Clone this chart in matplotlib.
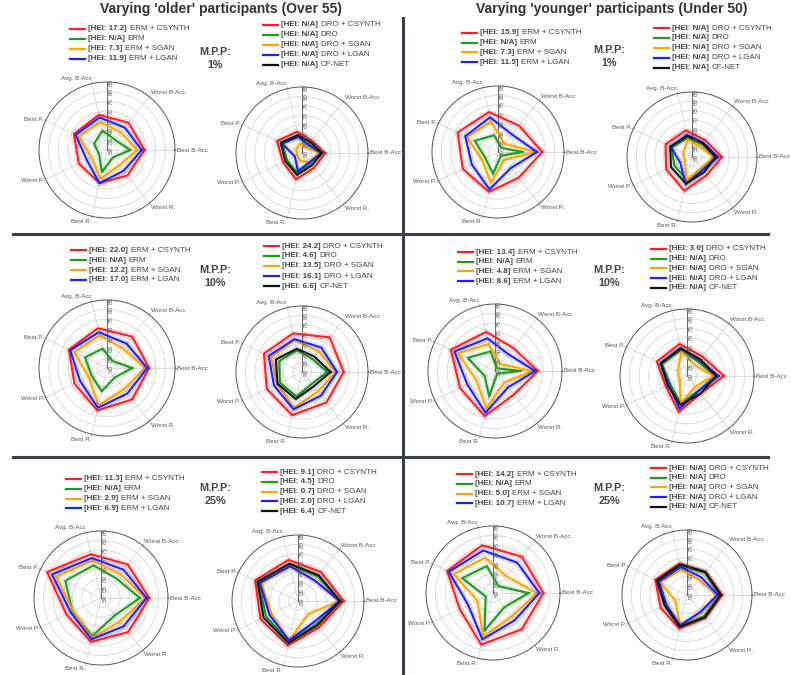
import numpy as np
import matplotlib
matplotlib.use('Agg')
import matplotlib.pyplot as plt
from matplotlib.lines import Line2D
from matplotlib.offsetbox import TextArea, HPacker, DrawingArea, AnchoredOffsetbox
from matplotlib.transforms import offset_copy

plt.rcParams['font.family'] = ['Liberation Sans', 'DejaVu Sans']

W, H = 791, 675

# axes of every radar, counter-clockwise starting at 3 o'clock
AXES = ['Best B-Acc', 'Worst B-Acc', 'Avg. B-Acc', 'Best P.', 'Worst P.', 'Best R.', 'Worst R.']
R_TICKS = [50, 55, 60, 65, 70, 75, 80, 85]

ERM_METHODS = ['ERM + CSYNTH', 'ERM', 'ERM + SGAN', 'ERM + LGAN']
DRO_METHODS = ['DRO + CSYNTH', 'DRO', 'DRO + SGAN', 'DRO + LGAN', 'CF-NET']
ERM_COLORS = ['#ff1f1f', '#229922', '#ffa500', '#1f1fff']
DRO_COLORS = ['#ff1f1f', '#229922', '#ffa500', '#1f1fff', '#111111']

# ---- older participants (over 55) ----
old_1_erm = [[69.3, 67.9, 68.6, 68.9, 66.1, 67.5, 66.8],
             [61.9, 56.7, 60.2, 57.4, 54.6, 61.6, 54.9],
             [65.4, 61.6, 64.7, 66.1, 58.8, 65.1, 60.2],
             [67.9, 64.7, 67.2, 67.9, 61.6, 67.5, 63.7]]
old_1_erm_hei = ['17.2', 'N/A', '7.3', '11.9']
old_1_dro = [[62.3, 58.4, 61.6, 64.7, 61.2, 64.4, 60.2],
             [59.5, 56.3, 58.8, 61.6, 58.8, 60.9, 57.0],
             [59.5, 53.5, 55.3, 53.5, 52.8, 54.2, 56.3],
             [60.5, 55.3, 58.8, 61.9, 54.2, 59.8, 56.3],
             [60.5, 57.4, 59.8, 62.6, 59.8, 61.9, 58.4]]
old_1_dro_hei = ['N/A', 'N/A', 'N/A', 'N/A', 'N/A']

old_10_erm = [[71.7, 70.7, 71.0, 71.7, 68.6, 72.4, 70.7],
              [63.0, 54.6, 60.2, 62.6, 58.8, 62.3, 56.3],
              [69.6, 63.0, 67.2, 68.6, 60.5, 69.6, 64.0],
              [70.7, 66.1, 68.9, 71.0, 65.4, 71.0, 66.8]]
old_10_erm_hei = ['22.0', 'N/A', '12.2', '17.0']
old_10_dro = [[72.1, 73.5, 71.0, 72.4, 70.7, 73.5, 70.7],
              [63.3, 58.8, 61.9, 63.3, 63.0, 63.3, 58.1],
              [67.9, 64.0, 67.5, 68.2, 64.4, 69.6, 63.3],
              [68.6, 66.5, 67.9, 69.6, 66.5, 70.3, 66.1],
              [65.1, 60.5, 62.6, 65.4, 64.4, 64.7, 59.8]]
old_10_dro_hei = ['24.2', '4.6', '13.5', '16.1', '6.6']

old_25_erm = [[75.2, 72.4, 73.5, 81.2, 70.0, 73.5, 72.8],
              [70.3, 63.0, 67.5, 70.7, 66.5, 70.3, 61.6],
              [73.1, 66.1, 70.0, 75.9, 66.1, 71.4, 65.8],
              [73.8, 68.9, 71.4, 78.4, 67.5, 72.1, 68.9]]
old_25_erm_hei = ['11.3', 'N/A', '2.9', '6.9']
old_25_dro = [[74.2, 69.6, 72.4, 75.2, 72.1, 74.2, 67.9],
              [72.1, 66.8, 69.6, 73.1, 68.9, 72.1, 65.8],
              [72.1, 64.0, 69.3, 71.7, 65.8, 71.7, 58.8],
              [72.1, 64.0, 68.9, 72.4, 66.8, 71.4, 64.0],
              [72.4, 67.5, 70.3, 73.8, 70.3, 72.8, 66.5]]
old_25_dro_hei = ['9.1', '4.5', '0.7', '2.0', '6.4']

# ---- younger participants (under 50) ----
young_1_erm = [[73.5, 67.9, 71.7, 73.8, 70.7, 71.7, 67.5],
               [63.3, 52.8, 59.1, 63.7, 57.4, 61.9, 52.5],
               [70.0, 55.6, 66.5, 68.2, 59.5, 66.8, 55.3],
               [70.7, 61.9, 68.9, 69.3, 65.4, 70.3, 60.9]]
young_1_erm_hei = ['15.9', 'N/A', '7.3', '11.5']
young_1_dro = [[66.1, 61.6, 64.7, 65.8, 65.4, 68.6, 62.6],
               [62.6, 58.8, 60.5, 62.3, 60.5, 62.6, 58.8],
               [61.6, 57.0, 59.8, 55.3, 54.2, 63.3, 57.7],
               [64.0, 59.8, 62.3, 62.6, 57.0, 65.1, 59.1],
               [62.6, 59.5, 61.6, 63.0, 62.6, 64.7, 60.5]]
young_1_dro_hei = ['N/A', 'N/A', 'N/A', 'N/A', 'N/A']

young_10_erm = [[72.4, 65.4, 71.0, 75.6, 70.3, 74.2, 65.8],
                [63.3, 51.8, 60.5, 65.8, 56.0, 63.7, 51.8],
                [69.3, 54.6, 64.4, 71.4, 60.9, 70.0, 57.7],
                [71.0, 61.2, 67.5, 73.5, 66.1, 72.4, 60.9]]
young_10_erm_hei = ['13.4', 'N/A', '4.8', '8.6']
young_10_dro = [[69.3, 63.0, 67.2, 67.5, 62.3, 69.3, 61.6],
                [64.7, 59.5, 64.0, 64.7, 59.8, 64.7, 59.8],
                [64.0, 57.0, 63.0, 55.3, 54.2, 64.7, 57.0],
                [66.5, 60.5, 65.1, 65.4, 60.5, 67.5, 59.8],
                [65.1, 61.2, 64.7, 65.1, 61.2, 65.4, 61.6]]
young_10_dro_hei = ['3.0', 'N/A', 'N/A', 'N/A', 'N/A']

young_25_erm = [[76.3, 74.2, 75.6, 76.6, 69.3, 77.7, 74.2],
                [68.6, 54.6, 64.4, 67.9, 54.2, 70.3, 59.5],
                [72.8, 61.2, 68.9, 72.8, 59.1, 73.1, 65.8],
                [74.2, 70.3, 72.8, 75.6, 64.4, 74.9, 68.2]]
young_25_erm_hei = ['14.2', 'N/A', '5.0', '10.7']
young_25_dro = [[68.9, 66.1, 67.5, 68.9, 65.8, 68.6, 65.8],
                [67.5, 65.4, 66.1, 67.5, 62.6, 67.2, 64.7],
                [65.8, 60.5, 64.0, 66.1, 57.0, 66.5, 62.3],
                [66.5, 62.3, 65.4, 66.8, 62.3, 66.8, 61.6],
                [68.2, 65.8, 66.8, 67.9, 63.3, 67.5, 65.4]]
young_25_dro_hei = ['N/A', 'N/A', 'N/A', 'N/A', 'N/A']

MPP = ['1%', '10%', '25%']
BAND = 1.4  # half width of the dotted spread around each line


def radar(fig, cx, cy, rad, series, colors):
    ax = fig.add_axes([(cx - rad) / W, 1 - (cy + rad) / H, 2 * rad / W, 2 * rad / H],
                      projection='polar')
    theta = np.linspace(0, 2 * np.pi, len(AXES), endpoint=False)
    ax.set_ylim(R_TICKS[0], R_TICKS[-1])
    ax.set_yticks(R_TICKS[1:-1])
    ax.set_yticklabels([])
    ax.set_thetagrids(np.degrees(theta), labels=[''] * len(AXES))
    ax.grid(color='#d6d6d6', lw=0.6)
    ax.spines['polar'].set_color('#555555')
    ax.spines['polar'].set_linewidth(0.7)
    ax.tick_params(length=0, pad=0)

    for t, name in zip(theta, AXES):
        ax.plot([t, t], [R_TICKS[-1], R_TICKS[-1] + 1.0], color='#aaaaaa', lw=0.6, clip_on=False)
        c, s = np.cos(t), np.sin(t)
        ha = 'left' if c > 0.1 else ('right' if c < -0.1 else 'center')
        va = 'bottom' if s > 0.5 else ('top' if s < -0.5 else 'center')
        ax.text(t, R_TICKS[-1] + 1.2, name, fontsize=4.5, color='#555555', ha=ha, va=va)

    ax.plot([np.pi / 2, np.pi / 2], [R_TICKS[0], R_TICKS[-1]], color='#666666', lw=0.7)
    trans = offset_copy(ax.transData, fig=fig, x=1.0, y=0, units='points')
    for v in R_TICKS:
        ax.text(np.pi / 2, v, str(v), rotation=90, fontsize=4.6, color='#666666',
                ha='left', va='center', transform=trans)

    th = np.r_[theta, theta[0]]
    for vals, col in zip(series, colors):
        v = np.r_[vals, vals[0]]
        ax.fill_between(th, v - BAND, v + BAND, color=col, alpha=0.07, lw=0)
        ax.plot(th, v + BAND, color=col, lw=0.5, ls=':', alpha=0.6)
        ax.plot(th, v - BAND, color=col, lw=0.5, ls=':', alpha=0.6)
        ax.plot(th, v, color=col, lw=1.5)
    return ax


def legend_rows(fig, x, y, step, colors, heis, names):
    for i, (col, hei, name) in enumerate(zip(colors, heis, names)):
        da = DrawingArea(11, 5)
        da.add_artist(Line2D([0, 11], [2.5, 2.5], color=col, lw=1.6))
        bold = TextArea(f'[HEI: {hei}]', textprops=dict(fontsize=5.8, weight='bold', color='#444444'))
        reg = TextArea(name, textprops=dict(fontsize=5.8, color='#444444'))
        row = HPacker(children=[da, bold, reg], align='center', pad=0, sep=2.0)
        box = AnchoredOffsetbox(loc='center left', child=row, pad=0, borderpad=0, frameon=False,
                                bbox_to_anchor=(x / W, 1 - (y + i * step) / H),
                                bbox_transform=fig.transFigure)
        fig.add_artist(box)


def fig_line(fig, x0, y0, x1, y1):
    fig.add_artist(Line2D([x0 / W, x1 / W], [1 - y0 / H, 1 - y1 / H], transform=fig.transFigure,
                          color='#3b3f47', lw=2.2))


fig = plt.figure(figsize=(W / 100, H / 100), dpi=100)

fig.text(221 / W, 1 - 9 / H, "Varying 'older' participants (Over 55)", ha='center', va='center',
         fontsize=10, weight='bold', color='#333333')
fig.text(612 / W, 1 - 9 / H, "Varying 'younger' participants (Under 50)", ha='center', va='center',
         fontsize=10, weight='bold', color='#333333')

fig_line(fig, 403, 18, 403, 675)
fig_line(fig, 13, 234, 768, 234)
fig_line(fig, 13, 457, 768, 457)

# (erm data, erm hei, dro data, dro hei, erm centre+radius, dro centre+radius,
#  erm legend x/y/step, dro legend x/y/step, mpp x/y)
panels = [
    (old_1_erm, old_1_erm_hei, old_1_dro, old_1_dro_hei, (107, 150, 68), (302, 153, 66),
     (70, 29, 10), (263, 25, 10), (215, 52), MPP[0]),
    (young_1_erm, young_1_erm_hei, young_1_dro, young_1_dro_hei, (498, 152, 66), (692, 157, 65),
     (462, 33, 9.7), (654, 28, 9.9), (609, 50), MPP[0]),
    (old_10_erm, old_10_erm_hei, old_10_dro, old_10_dro_hei, (107, 368, 68), (302, 372, 66),
     (71, 250, 10), (264, 246, 10), (215, 270), MPP[1]),
    (young_10_erm, young_10_erm_hei, young_10_dro, young_10_dro_hei, (495, 371, 67), (687, 376, 67),
     (458, 252, 9.7), (651, 249, 9.7), (609, 270), MPP[1]),
    (old_25_erm, old_25_erm_hei, old_25_dro, old_25_dro_hei, (101, 598, 67), (298, 601, 66),
     (66, 479, 9.8), (262, 472, 9.8), (215, 488), MPP[2]),
    (young_25_erm, young_25_erm_hei, young_25_dro, young_25_dro_hei, (493, 593, 67), (687, 595, 65),
     (457, 474, 9.8), (651, 468, 9.7), (609, 488), MPP[2]),
]

for erm, erm_hei, dro, dro_hei, c_erm, c_dro, l_erm, l_dro, mpp_xy, mpp in panels:
    radar(fig, *c_erm, erm, ERM_COLORS)
    radar(fig, *c_dro, dro, DRO_COLORS)
    legend_rows(fig, *l_erm, ERM_COLORS, erm_hei, ERM_METHODS)
    legend_rows(fig, *l_dro, DRO_COLORS, dro_hei, DRO_METHODS)
    fig.text(mpp_xy[0] / W, 1 - mpp_xy[1] / H, 'M.P.P:', ha='center', va='center',
             fontsize=7.8, weight='bold', color='#444444')
    fig.text(mpp_xy[0] / W, 1 - (mpp_xy[1] + 13) / H, mpp, ha='center', va='center',
             fontsize=7.8, weight='bold', color='#444444')

fig.savefig('out.png', dpi=100)
